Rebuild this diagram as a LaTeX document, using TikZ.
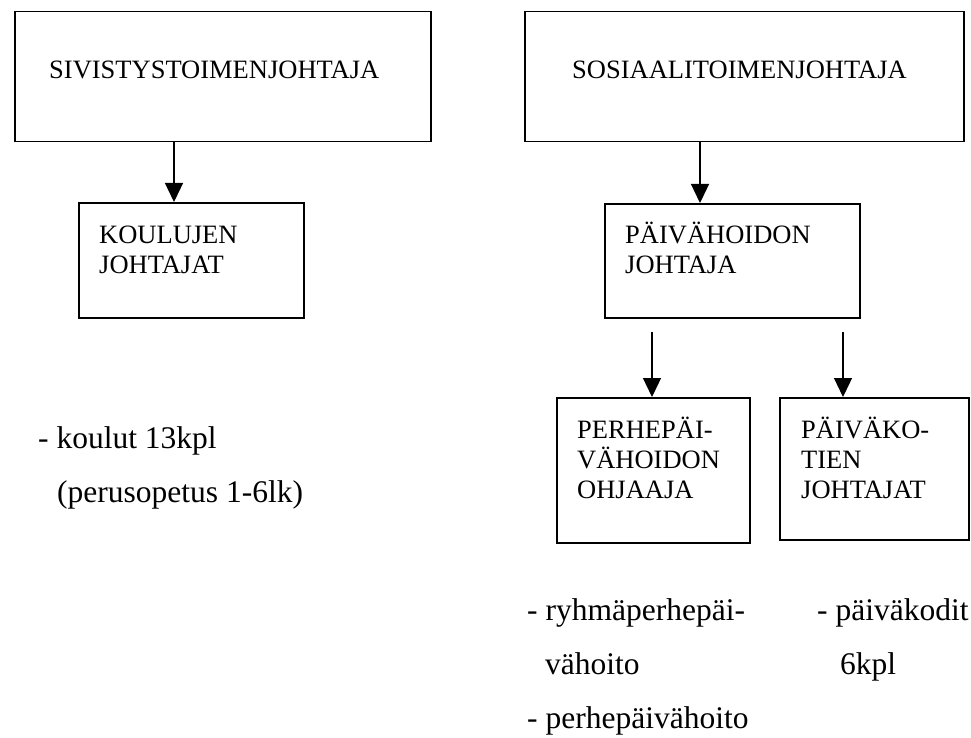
\documentclass[tikz,border=0pt]{standalone}
\usepackage{fontspec}
\setmainfont{Liberation Serif}
\usetikzlibrary{arrows.meta}

\begin{document}
\begin{tikzpicture}[
        x=1pt, y=-1pt,
        box/.style={draw, line width=1.5pt, anchor=north west, inner sep=0pt},
        boxtext/.style={anchor=base west, align=left, inner sep=0pt, font=\fontsize{26.5}{30}\selectfont},
        note/.style={anchor=base west, align=left, inner sep=0pt, font=\fontsize{31.5}{54}\selectfont},
        arr/.style={-{Triangle[width=18pt,length=19pt]}, line width=1.3pt}
      ]
      \useasboundingbox (0,0) rectangle (971,738);
      % Top boxes
      \node[box, minimum width=416pt, minimum height=130pt] (siv) at (14,11) {};
      \node[box, minimum width=439pt, minimum height=130pt] (sos) at (524,11) {};
      \node[boxtext] at ([shift={(35,68)}]siv.north west) {SIVISTYSTOIMENJOHTAJA};
      \node[boxtext] at ([shift={(48,68)}]sos.north west) {SOSIAALITOIMENJOHTAJA};
      % Second level (base = last line)
      \node[box, minimum width=225pt, minimum height=115pt] (kou) at (78,202) {};
      \node[box, minimum width=255pt, minimum height=114pt] (pvh) at (604,203) {};
      \node[boxtext] at ([shift={(21,71)}]kou.north west) {KOULUJEN\\JOHTAJAT};
      \node[boxtext] at ([shift={(21,70)}]pvh.north west) {PÄIVÄHOIDON\\JOHTAJA};
      % Third level
      \node[box, minimum width=193pt, minimum height=145pt] (per) at (556,397) {};
      \node[box, minimum width=189pt, minimum height=142pt] (pko) at (779,397) {};
      \node[boxtext] at ([shift={(21,101)}]per.north west) {PERHEPÄI-\\VÄHOIDON\\OHJAAJA};
      \node[boxtext] at ([shift={(22,101)}]pko.north west) {PÄIVÄKO-\\TIEN\\JOHTAJAT};
      % Arrows
      \coordinate (perin) at (652,332);
      \coordinate (pkoin) at (843,332);
      \draw[arr] ([xshift=96pt]kou.north west |- siv.south) -- ([xshift=96pt]kou.north west);
      \draw[arr] ([xshift=96pt]pvh.north west |- sos.south) -- ([xshift=96pt]pvh.north west);
      \draw[arr] (perin) -- ([xshift=96pt]per.north west);
      \draw[arr] (pkoin) -- ([xshift=64pt]pko.north west);
      % Notes
      \node[note] (koulut) at (38,502) {- koulut 13kpl\\\hspace*{19pt}(perusopetus 1-6lk)};
      \node[note] (ryhma) at (527,728) {- ryhmäperhepäi-\\\hspace*{18pt}vähoito\\- perhepäivähoito};
      \node[note] (kodit) at (817,674) {- päiväkodit\\\hspace*{23pt}6kpl};
    \end{tikzpicture}
\end{document}
